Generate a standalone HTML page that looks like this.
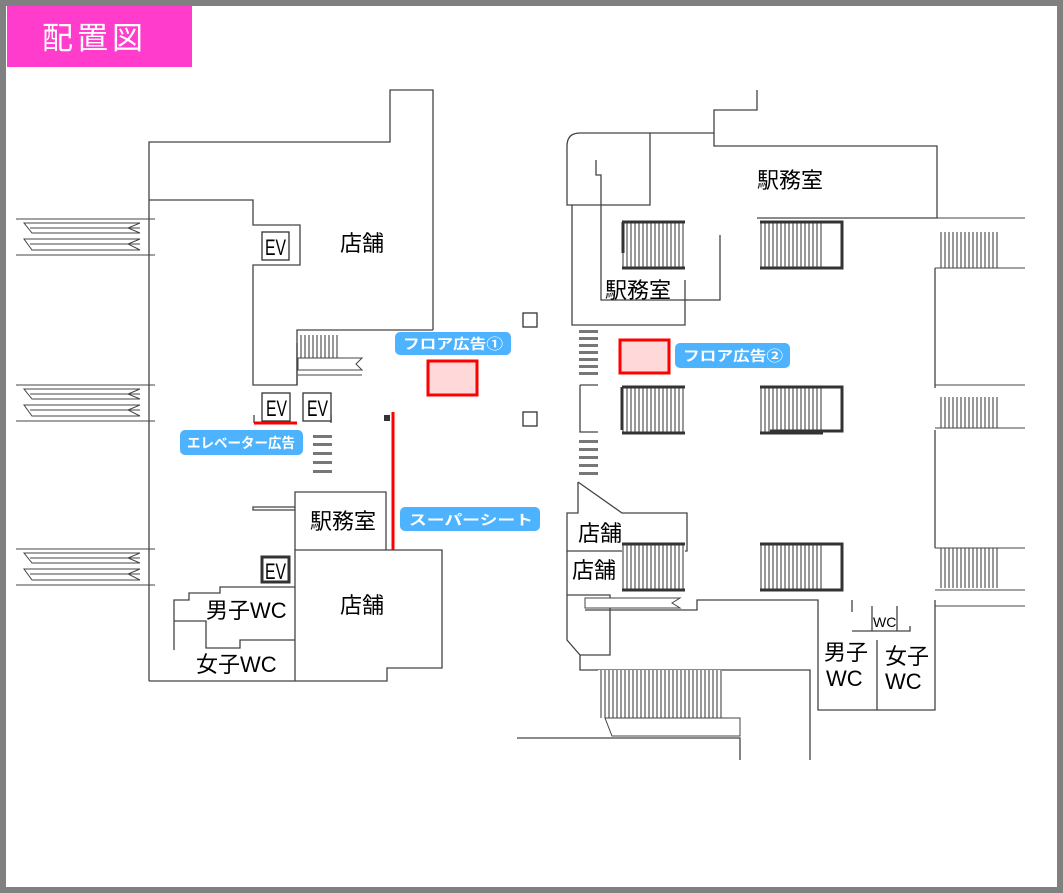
<!DOCTYPE html>
<html><head><meta charset="utf-8"><style>
html,body{margin:0;padding:0;background:#fff}
svg{display:block}
text{font-family:"Liberation Sans","Noto Sans CJK JP",sans-serif}
</style></head><body>
<svg width="1063" height="893" viewBox="0 0 1063 893" xmlns="http://www.w3.org/2000/svg">
<defs>
<pattern id="h" width="4" height="10" patternUnits="userSpaceOnUse"><rect width="4" height="10" fill="#fff"/><line x1="1" y1="0" x2="1" y2="10" stroke="#333" stroke-width="1"/></pattern>
<g id="lesc">
<line x1="16" y1="0" x2="155" y2="0" stroke="#444"/>
<path d="M24 4 H140 L128 9 L140 14 H32 Z" fill="#fff" stroke="#444"/>
<line x1="30" y1="9" x2="140" y2="9" stroke="#444"/>
<path d="M24 20 H140 L128 25 L140 31 H32 Z" fill="#fff" stroke="#444"/>
<line x1="30" y1="25" x2="140" y2="25" stroke="#444"/>
<line x1="16" y1="36" x2="155" y2="36" stroke="#444"/>
</g>
<g id="besc">
<rect x="0" y="0" width="63" height="46" fill="url(#h)"/>
<line x1="0" y1="0" x2="63" y2="0" stroke="#333" stroke-width="3"/>
<line x1="0" y1="46" x2="63" y2="46" stroke="#333" stroke-width="3"/>
</g>
</defs>
<rect x="3" y="3" width="1057" height="887" fill="#fff" stroke="#808080" stroke-width="6"/>
<rect x="7" y="6" width="185" height="61" fill="#ff3ccc"/>
<text x="42" y="49" font-size="31" fill="#fff" letter-spacing="4">配置図</text>

<g fill="none" stroke="#444" stroke-width="1.3">
<path d="M149 681 V142 H390 V90 H433 V330"/>
<path d="M149 200 H253 V225 H300 V265 H253 V385 H297 V330 H433"/>
<path d="M297 385 V343"/>
<path d="M149 681 H387 V668 H442 V550 H295 V681"/>
<path d="M295 550 V492 H386 V550"/>
<path d="M295 507 H253 V510 H295"/>
<path d="M295 587 H220 V593 H189 V600 H174 V650"/>
<path d="M174 621 H206 V648 H240 V640 H295"/>
<path d="M254 423 V415 M331 423 V415"/>
<path d="M757 90 V110 H714 V133 H580 Q567 133 567 146 V205 H650 V133"/>
<path d="M714 133 V146 H937 V218 H757"/>
<path d="M572 205 V325 H685 V280"/>
<path d="M596 160 V175 H601 V300 H720 V235"/>
<path d="M935 268 V388 M935 430 V548"/>
<path d="M578 482 L622 513 H687 V551 H567 V513 H578 V482"/>
<path d="M567 551 V640 L580 655 H610 V595 H567"/>
<path d="M585 610 H697 V600 H818 V710 H935 V600"/>
<path d="M877 640 V710 M852 600 V612 M872 606 V631 H897 V606 M852 631 H910 V626"/>
<path d="M580 655 V670 H810 V760"/>
<path d="M517 738 H740 V760"/>
<path d="M580 385 H598 M580 385 V432 H598"/>
</g>
<use href="#lesc" x="0" y="219"/>
<use href="#lesc" x="0" y="385"/>
<use href="#lesc" x="0" y="549"/>
<rect x="298" y="335" width="40" height="24" fill="url(#h)"/>
<g stroke="#444" fill="#fff"><path d="M298 358 H362 L356 364 L362 370 H298 Z"/><line x1="298" y1="375" x2="362" y2="375"/></g>
<g fill="#777"><rect x="313" y="435" width="19" height="3"/><rect x="313" y="443" width="19" height="3"/><rect x="313" y="452" width="19" height="3"/><rect x="313" y="461" width="19" height="3"/><rect x="313" y="470" width="19" height="3"/>
<rect x="579" y="330" width="19" height="3"/><rect x="579" y="337" width="19" height="3"/><rect x="579" y="344" width="19" height="3"/><rect x="579" y="351" width="19" height="3"/><rect x="579" y="358" width="19" height="3"/><rect x="579" y="365" width="19" height="3"/><rect x="579" y="372" width="19" height="3"/>
<rect x="579" y="440" width="19" height="3"/><rect x="579" y="448" width="19" height="3"/><rect x="579" y="456" width="19" height="3"/><rect x="579" y="464" width="19" height="3"/><rect x="579" y="472" width="19" height="3"/></g>
<g fill="#fff" stroke="#333" stroke-width="1.3">
<rect x="262" y="232" width="27" height="28"/><rect x="262" y="393" width="28" height="28"/><rect x="303" y="393" width="28" height="28"/><rect x="262" y="557" width="27" height="25" stroke-width="3"/>
<rect x="523" y="313" width="14" height="14"/><rect x="523" y="412" width="14" height="14"/>
</g>
<g font-size="22" fill="#000">
<text x="265" y="255" textLength="21" lengthAdjust="spacingAndGlyphs">EV</text><text x="266" y="416" textLength="21" lengthAdjust="spacingAndGlyphs">EV</text><text x="307" y="416" textLength="21" lengthAdjust="spacingAndGlyphs">EV</text><text x="265" y="579" textLength="21" lengthAdjust="spacingAndGlyphs">EV</text>
</g>
<use href="#besc" x="622" y="222"/><use href="#besc" x="760" y="222"/>
<use href="#besc" x="622" y="387"/><use href="#besc" x="760" y="387"/>
<use href="#besc" x="622" y="544"/><use href="#besc" x="760" y="544"/>
<g fill="none" stroke="#333" stroke-width="3"><path d="M623 222 V253"/><path d="M822 222 H842 V268 H770"/><path d="M822 387 H842 V431 H770"/><path d="M822 544 H842 V590 H770"/><path d="M622 387 V430"/></g>
<rect x="940" y="232" width="60" height="36" fill="url(#h)"/>
<rect x="940" y="397" width="60" height="31" fill="url(#h)"/>
<rect x="940" y="548" width="60" height="40" fill="url(#h)"/>
<g stroke="#444" fill="none"><path d="M935 218 H1025 M935 268 H1025 M935 385 H1025 M935 428 H1025 M935 548 H1025 M935 606 H1025 M935 590 H1025"/></g>
<rect x="598" y="670" width="124" height="48" fill="url(#h)"/>
<g stroke="#444" fill="#fff"><path d="M605 718 H740 V736 H612 Z"/><path d="M585 598 H680 L672 603 L680 608 H585 Z"/></g>
<rect x="428" y="361" width="49" height="34" fill="#ffd9d9" stroke="#f00" stroke-width="3"/>
<rect x="620" y="340" width="49" height="33" fill="#ffd9d9" stroke="#f00" stroke-width="3"/>
<line x1="393" y1="412" x2="393" y2="550" stroke="#f00" stroke-width="3"/>
<line x1="254" y1="423" x2="297" y2="423" stroke="#f00" stroke-width="3"/>
<rect x="384" y="415" width="6" height="6" fill="#333"/>
<g font-size="22" fill="#000">
<text x="340" y="251">店舗</text><text x="340" y="613">店舗</text>
<text x="310" y="529">駅務室</text>
<text x="206" y="618">男子WC</text><text x="196" y="672">女子WC</text>
<text x="757" y="188">駅務室</text><text x="605" y="298">駅務室</text>
<text x="578" y="541">店舗</text><text x="572" y="578">店舗</text>
<text x="824" y="660">男子</text><text x="826" y="686">WC</text>
<text x="885" y="664">女子</text><text x="885" y="689">WC</text>
</g>
<text x="873" y="627" font-size="14">WC</text>
<g fill="#4db3ff"><rect x="395" y="332" width="116" height="23" rx="5"/><rect x="675" y="343" width="115" height="25" rx="5"/><rect x="180" y="430" width="123" height="25" rx="5"/><rect x="400" y="507" width="140" height="24" rx="5"/></g>
<g fill="#fff" font-size="14" font-weight="bold">
<text x="403" y="349" textLength="100" lengthAdjust="spacingAndGlyphs">フロア広告①</text><text x="683" y="361" textLength="100" lengthAdjust="spacingAndGlyphs">フロア広告②</text><text x="187" y="448" textLength="108" lengthAdjust="spacingAndGlyphs">エレベーター広告</text><text x="409" y="525" textLength="124" lengthAdjust="spacingAndGlyphs">スーパーシート</text>
</g>
</svg>
</body></html>
